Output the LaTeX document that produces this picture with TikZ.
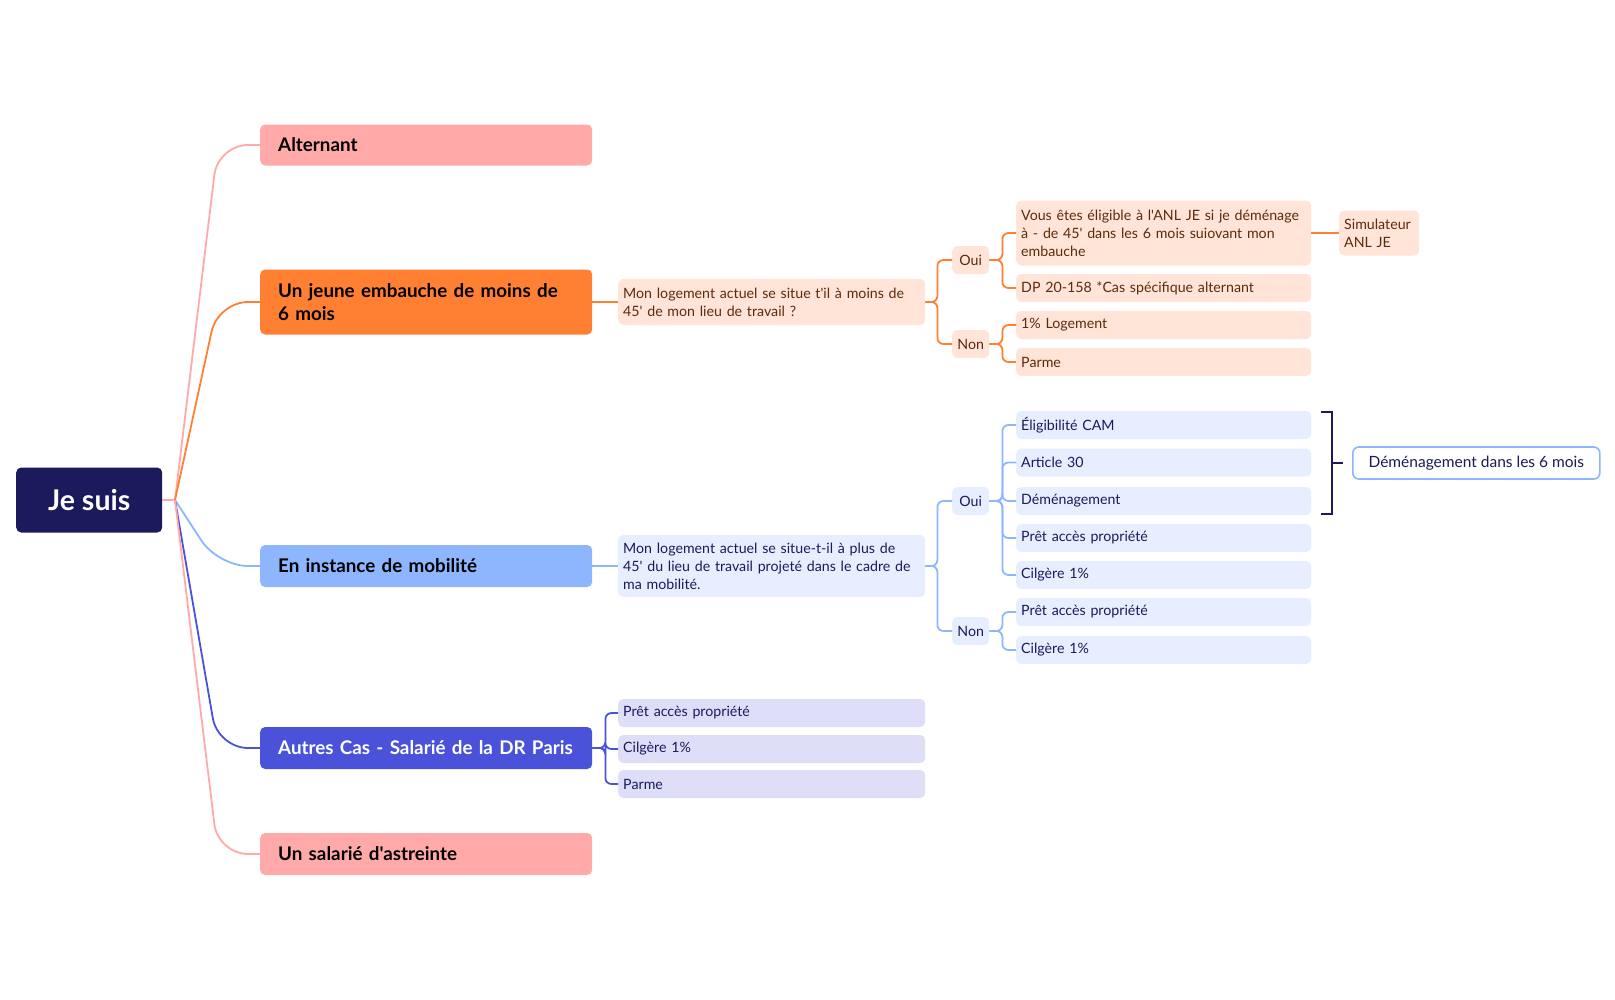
\documentclass[tikz,border=0pt]{standalone}
\usepackage{fontspec}
\setmainfont{Lato}[Ligatures=TeXOff]
\newcommand\ap{'}
\definecolor{navy}{HTML}{1B1A5C}
\definecolor{pinkc}{HTML}{FFAAA8}
\definecolor{orangec}{HTML}{FF7F33}
\definecolor{orangel}{HTML}{FFE4D7}
\definecolor{brownt}{HTML}{5E2A0C}
\definecolor{bluec}{HTML}{8DB6FF}
\definecolor{bluel}{HTML}{E6EEFF}
\definecolor{violetc}{HTML}{4A52D9}
\definecolor{violetl}{HTML}{DEDEF8}
\tikzset{
  rootbox/.style={fill=navy, text=white, rounded corners=5pt, inner sep=0pt, anchor=west,
    minimum width=146pt, minimum height=65pt, align=center,
    font=\fontsize{28.5}{32}\selectfont\bfseries},
  branch/.style={rounded corners=5pt, inner xsep=18pt, inner ysep=0pt, anchor=west,
    text width=296pt, align=left, minimum height=42pt,
    font=\fontsize{18.8}{23.5}\selectfont\bfseries},
  leaf/.style={rounded corners=5pt, inner xsep=5pt, inner ysep=0pt, anchor=west,
    text width=#1, align=left, minimum height=28pt,
    font=\fontsize{14.2}{18}\selectfont},
  leaf/.default=285pt,
  yn/.style={rounded corners=5pt, inner sep=0pt, anchor=west, minimum width=37pt,
    minimum height=28pt, align=center, font=\fontsize{14.2}{18}\selectfont},
  ol/.style={leaf=#1, fill=orangel, text=brownt},
  ol/.default=285pt,
  bl/.style={leaf=#1, fill=bluel, text=navy},
  bl/.default=285pt,
  vl/.style={leaf=#1, fill=violetl, text=navy},
  vl/.default=285pt,
  link/.style={line width=1.8pt, rounded corners=6pt},
  mainlink/.style={line width=1.8pt, rounded corners=30pt},
}
\begin{document}
\begin{tikzpicture}[x=1pt, y=-1pt]
\useasboundingbox (0,0) rectangle (1615,999);

% root
\node[rootbox] (root) at (16,500) {Je suis};
\coordinate (o) at (175,500);

% branches
\node[branch, fill=pinkc, text=black, minimum height=41pt] (alt) at (260,145) {Alternant};
\node[branch, fill=orangec, text=black, minimum height=65pt] (jeune) at (260,302) {Un jeune embauche de moins de\\6 mois};
\node[branch, fill=bluec, text=black] (inst) at (260,566) {En instance de mobilité};
\node[branch, fill=violetc, text=white] (autres) at (260,748) {\mbox{Autres Cas - Salarié de la DR Paris}};
\node[branch, fill=pinkc, text=black] (astr) at (260,854) {Un salarié d\ap astreinte};

\draw[pinkc, line width=1.8pt] (root.east) -- (o);
\draw[mainlink, pinkc] (o) -- ([xshift=-42pt]alt.west) -- (alt.west);
\draw[mainlink, orangec] (o) -- ([xshift=-42pt]jeune.west) -- (jeune.west);
\draw[mainlink, bluec] (o) -- ([xshift=-42pt]inst.west) -- (inst.west);
\draw[mainlink, violetc] (o) -- ([xshift=-42pt]autres.west) -- (autres.west);
\draw[mainlink, pinkc] (o) -- ([xshift=-42pt]astr.west) -- (astr.west);

% orange subtree
\node[ol=297pt, minimum height=46pt] (q1) at (618,302) {Mon logement actuel se situe t\ap il à moins de\\45\ap{} de mon lieu de travail ?};
\node[yn, fill=orangel, text=brownt] (oui1) at (952,260) {Oui};
\node[yn, fill=orangel, text=brownt] (non1) at (952,344) {Non};
\node[ol, minimum height=65pt] (o1) at (1016,233) {Vous êtes éligible à l\ap ANL JE si je déménage\\à - de 45\ap{} dans les 6 mois suiovant mon\\embauche};
\node[ol] (o2) at (1016,288) {DP 20-158 *Cas spécifique alternant};
\node[ol] (o3) at (1016,325) {1\% Logement};
\node[ol] (o4) at (1016,362) {Parme};
\node[ol=70pt, minimum height=45pt] (sim) at (1339,233) {Simulateur\\ANL JE};

\draw[link, orangec] (jeune.east) -- (q1.west);
\draw[link, orangec] (q1.east) -- ++(12,0) |- (oui1.west);
\draw[link, orangec] (q1.east) -- ++(12,0) |- (non1.west);
\draw[link, orangec] (oui1.east) -- ++(13,0) |- (o1.west);
\draw[link, orangec] (oui1.east) -- ++(13,0) |- (o2.west);
\draw[link, orangec] (non1.east) -- ++(13,0) |- (o3.west);
\draw[link, orangec] (non1.east) -- ++(13,0) |- (o4.west);
\draw[link, orangec] (o1.east) -- (sim.west);

% blue subtree
\node[bl=297pt, minimum height=62pt] (q2) at (618,566) {Mon logement actuel se situe-t-il à plus de\\45\ap{} du lieu de travail projeté dans le cadre de\\ma mobilité.};
\node[yn, fill=bluel, text=navy] (oui2) at (952,501) {Oui};
\node[yn, fill=bluel, text=navy] (non2) at (952,631) {Non};
\node[bl] (b1) at (1016,425) {Éligibilité CAM};
\node[bl] (b2) at (1016,462.5) {Article 30};
\node[bl] (b3) at (1016,501) {Déménagement};
\node[bl] (b4) at (1016,538) {Prêt accès propriété};
\node[bl] (b5) at (1016,575) {Cilgère 1\%};
\node[bl] (b6) at (1016,612) {Prêt accès propriété};
\node[bl] (b7) at (1016,650) {Cilgère 1\%};

\draw[link, bluec] (inst.east) -- (q2.west);
\draw[link, bluec] (q2.east) -- ++(12,0) |- (oui2.west);
\draw[link, bluec] (q2.east) -- ++(12,0) |- (non2.west);
\foreach \n in {b1,b2,b3,b4,b5}
  \draw[link, bluec] (oui2.east) -- ++(13,0) |- (\n.west);
\foreach \n in {b6,b7}
  \draw[link, bluec] (non2.east) -- ++(13,0) |- (\n.west);

% bracket and summary
\coordinate (bt) at (1321,412);
\coordinate (bb) at (1321,514);
\draw[navy, line width=1.8pt] (bt) -- ++(11,0) -- ([xshift=11pt]bb) -- (bb);
\node[draw=bluec, line width=1.6pt, fill=white, rounded corners=6pt, anchor=west,
  minimum width=247pt, minimum height=32pt, inner sep=0pt, text=navy,
  font=\fontsize{15.5}{18}\selectfont] (dem) at (1352,463) {Déménagement dans les 6 mois};
\coordinate (bm) at (1332,463);
\draw[navy, line width=1.8pt] (bm) -- ++(11,0);

% violet subtree
\node[vl=297pt] (v1) at (618,713) {Prêt accès propriété};
\node[vl=297pt] (v2) at (618,749) {Cilgère 1\%};
\node[vl=297pt] (v3) at (618,784) {Parme};
\foreach \n in {v1,v2,v3}
  \draw[link, violetc] (autres.east) -- ++(13,0) |- (\n.west);
\end{tikzpicture}
\end{document}
